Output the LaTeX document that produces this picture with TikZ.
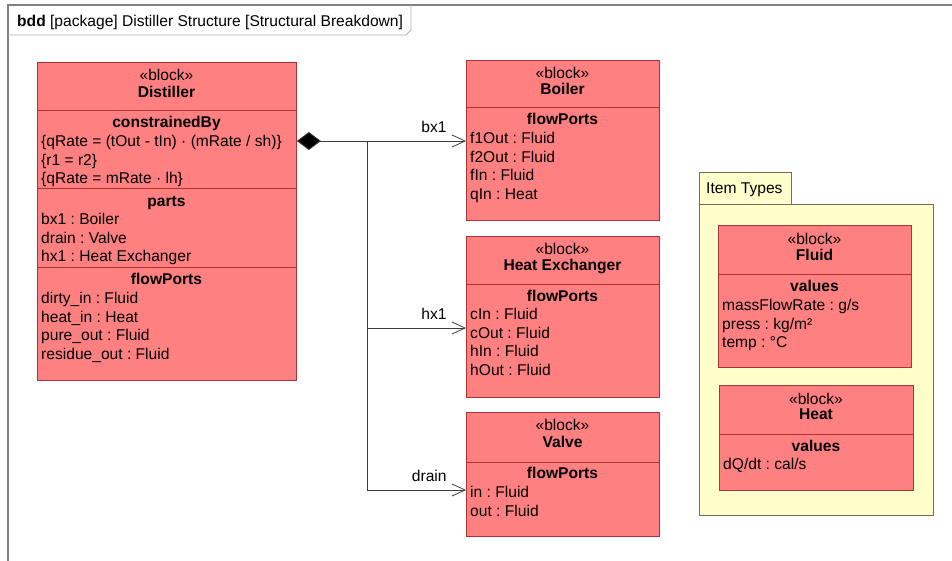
\documentclass[tikz,border=0pt]{standalone}
\usepackage{fontspec}
\setmainfont{Liberation Sans}
\usetikzlibrary{arrows.meta}

\definecolor{blockred}{HTML}{FF8080}
\definecolor{blockedge}{HTML}{A83434}
\definecolor{pkgyellow}{HTML}{FFFFCC}
\definecolor{pkgedge}{HTML}{6E6E5A}
\definecolor{linkgray}{HTML}{3C3C3C}

\def\fs{\fontsize{15.6}{18}\selectfont\frenchspacing}
\def\ls{18.6}

\tikzset{
  block/.style={draw=blockedge,fill=blockred,line width=0.9pt,anchor=north west,inner sep=0pt},
  sep/.style={draw=blockedge,line width=0.9pt},
  pkgbox/.style={draw=pkgedge,fill=pkgyellow,line width=0.9pt,anchor=north west,inner sep=0pt},
  item/.style={anchor=base west,inner sep=0pt,font=\fs},
  stereo/.style={anchor=base,inner sep=0pt,font=\fs},
  title/.style={anchor=base,inner sep=0pt,font=\fs\bfseries},
  link/.style={draw=linkgray,line width=0.8pt},
  part/.style={link,-{Straight Barb[length=13pt,width=12pt]}},
  lbl/.style={pos=1,anchor=base east,xshift=-19pt,yshift=9pt,inner sep=0pt,font=\fs,text=black},
}

\begin{document}
\begin{tikzpicture}[x=1pt,y=-1pt]
\useasboundingbox (0,0) rectangle (952,560);

% diagram frame
\draw[gray,line width=1.5pt] (8,600) -- (8,5) -- (990,5);
\draw[gray!60,line width=0.8pt] (8,35) -- (406,35) -- (411,30) -- (411,5);
\node[item] (hdr) at (17,26) {\textbf{bdd} [package] Distiller Structure [Structural Breakdown]};

% Distiller
\node[block,minimum width=259pt,minimum height=318pt] (distiller) at (37,62) {};
\draw[sep] (37,110) -- (296,110);
\draw[sep] (37,188) -- (296,188);
\draw[sep] (37,267) -- (296,267);
\node[stereo] (dst) at (166.5,80) {«block»};
\node[title] (dname) at (166.5,97) {Distiller};
\node[title] (dcon) at (166.5,127) {constrainedBy};
\foreach \t [count=\i] in {\{qRate = (tOut - tIn) · (mRate / sh)\},\{r1 = r2\},\{qRate = mRate · lh\}}
  \node[item] (dc\i) at (41,{146.5+\ls*(\i-1)}) {\t};
\node[title] (dparts) at (166.5,206) {parts};
\foreach \t [count=\i] in {bx1 : Boiler,drain : Valve,hx1 : Heat Exchanger}
  \node[item] (dp\i) at (41,{224.5+\ls*(\i-1)}) {\t};
\node[title] (dflow) at (166.5,284) {flowPorts};
\foreach \t [count=\i] in {dirty\_in : Fluid,heat\_in : Heat,pure\_out : Fluid,residue\_out : Fluid}
  \node[item] (df\i) at (41,{303.5+\ls*(\i-1)}) {\t};

% Boiler
\node[block,minimum width=193pt,minimum height=160pt] (boiler) at (466,60) {};
\draw[sep] (466,107) -- (659,107);
\node[stereo] (bst) at (562.5,78) {«block»};
\node[title] (bname) at (562.5,94) {Boiler};
\node[title] (bflow) at (562.5,124) {flowPorts};
\foreach \t [count=\i] in {f1Out : Fluid,f2Out : Fluid,fIn : Fluid,qIn : Heat}
  \node[item] (bf\i) at (470,{143.5+\ls*(\i-1)}) {\t};

% Heat Exchanger
\node[block,minimum width=193pt,minimum height=161pt] (hx) at (466,236) {};
\draw[sep] (466,284) -- (659,284);
\node[stereo] (hst) at (562.5,254) {«block»};
\node[title] (hname) at (562.5,270) {Heat Exchanger};
\node[title] (hflow) at (562.5,301) {flowPorts};
\foreach \t [count=\i] in {cIn : Fluid,cOut : Fluid,hIn : Fluid,hOut : Fluid}
  \node[item] (hf\i) at (470,{319.5+\ls*(\i-1)}) {\t};

% Valve
\node[block,minimum width=193pt,minimum height=124pt] (valve) at (466,412) {};
\draw[sep] (466,462) -- (659,462);
\node[stereo] (vst) at (562.5,430) {«block»};
\node[title] (vname) at (562.5,447) {Valve};
\node[title] (vflow) at (562.5,478) {flowPorts};
\foreach \t [count=\i] in {in : Fluid,out : Fluid}
  \node[item] (vf\i) at (470,{497.5+\ls*(\i-1)}) {\t};

% composition
\coordinate (fork) at (367,141);
\coordinate (jhx) at (367,328);
\coordinate (jdrain) at (367,490);
\draw[link,{Diamond[length=24pt,width=18pt,fill=black]}-] ([yshift=-79pt]distiller.north east) -- (fork);
\draw[link] (fork) -- (jdrain);
\draw[part] (fork) -- (boiler.west |- fork) node[lbl] (lbx) {bx1};
\draw[part] (jhx) -- (hx.west |- jhx) node[lbl] (lhx) {hx1};
\draw[part] (jdrain) -- (valve.west |- jdrain) node[lbl] (ldrain) {drain};

% Item Types package
\node[pkgbox,minimum width=234pt,minimum height=311pt] (itembody) at (699,204) {};
\node[pkgbox,minimum width=92pt,minimum height=32pt] (itemtab) at (699,172) {};
\node[item] (itemname) at (706,193.5) {Item Types};

% Fluid
\node[block,minimum width=193pt,minimum height=142pt] (fluid) at (718,225) {};
\draw[sep] (718,274) -- (911,274);
\node[stereo] (fst) at (814.5,244) {«block»};
\node[title] (fname) at (814.5,260) {Fluid};
\node[title] (fval) at (814.5,291) {values};
\foreach \t [count=\i] in {massFlowRate : g/s,press : kg/m²,temp : °C}
  \node[item] (fv\i) at (722,{310.5+\ls*(\i-1)}) {\t};

% Heat
\node[block,minimum width=194pt,minimum height=105pt] (heat) at (719,385) {};
\draw[sep] (719,434) -- (913,434);
\node[stereo] (qst) at (816,404) {«block»};
\node[title] (qname) at (816,419) {Heat};
\node[title] (qval) at (816,451) {values};
\node[item] (qv1) at (723,469.5) {dQ/dt : cal/s};

\end{tikzpicture}
\end{document}
